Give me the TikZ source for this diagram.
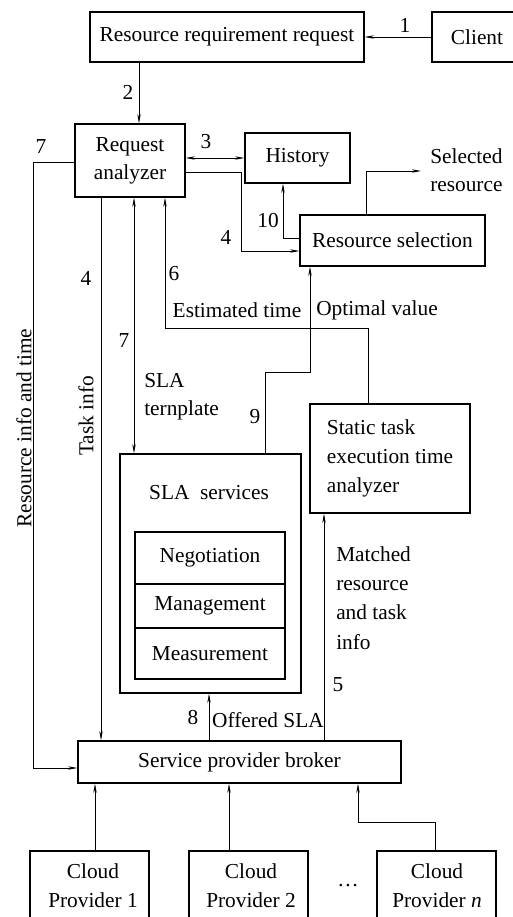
\documentclass[tikz,border=0pt]{standalone}
\usepackage{fontspec}
\setmainfont{Liberation Serif}
\usetikzlibrary{arrows.meta}

\begin{document}
\begin{tikzpicture}[x=0.75pt,y=-0.75pt,
  font=\fontsize{16}{20}\selectfont,
  box/.style={draw,line width=1.1pt,inner sep=0pt,align=center},
  wire/.style={line width=0.5pt},
  arr/.style={wire,-{Stealth[length=7pt,width=2.6pt]}},
  biarr/.style={wire,{Stealth[length=7pt,width=2.6pt]}-{Stealth[length=7pt,width=2.6pt]}},
  lbl/.style={inner sep=0pt},
  txt/.style={inner sep=0pt,align=left}]

\useasboundingbox (0,0) rectangle (513,917);
\clip (0,0) rectangle (513,917);

% ---- boxes ----
\node[box,minimum width=205.5pt,minimum height=37.5pt]  (rrr)    at (227,37)    {Resource requirement request};
\node[box,minimum width=61.5pt,minimum height=37.5pt]   (client) at (473,37)    {\hspace*{6pt}Client};
\node[box,minimum width=82.5pt,minimum height=54.75pt]  (ra)     at (130,160.5) {Request\\[1pt]analyzer};
\node[box,minimum width=78.75pt,minimum height=37.5pt]  (hist)   at (297.5,158) {History};
\node[box,minimum width=138.75pt,minimum height=38.25pt](rs)     at (392.5,240.5) {Resource selection};
\node[box,minimum width=120pt,minimum height=81.75pt,align=left] (stat) at (390,458.5)
     {Static task\\[2pt]execution time\\[2pt]analyzer};
\node[box,minimum width=135.75pt,minimum height=179.25pt] (sla) at (210.5,573.5) {};
\node[lbl] (slat) at (209,493) {SLA~ services};
\node[box,minimum width=112.5pt,minimum height=39pt]    (neg)    at (210,558)   {Negotiation};
\node[box,minimum width=112.5pt,minimum height=33pt]    (man)    at (210,606)   {Management};
\node[box,minimum width=112.5pt,minimum height=38.25pt] (mea)    at (210,653.5) {Measurement};
\node[box,minimum width=242.25pt,minimum height=31.5pt] (broker) at (239.5,762) {Service provider broker};
\node[box,minimum width=89.25pt,minimum height=59.25pt] (cp1)    at (89.5,890.5)  {};
\node[box,minimum width=89.25pt,minimum height=59.25pt] (cp2)    at (248.5,890.5) {};
\node[box,minimum width=89.25pt,minimum height=59.25pt] (cpn)    at (436.5,890.5) {};
\node[lbl,align=center] (cp1t) at (93,886)  {Cloud\\[2pt]Provider 1};
\node[lbl,align=center] (cp2t) at (251,886) {Cloud\\[2pt]Provider 2};
\node[lbl,align=center] (cpnt) at (437,886) {Cloud\\[2pt]Provider \textit{n}};
\node[lbl] (dots) at (348,886) {…};

% ---- reference points for the connectors ----
\coordinate (c2)   at (139,0);
\coordinate (cL)   at (33,162);
\coordinate (cLb)  at (33,768);
\coordinate (c4)   at (241,172);
\coordinate (c4b)  at (241,251);
\coordinate (c10)  at (283,238);
\coordinate (csel) at (366,0);
\coordinate (sel)  at (421,171);
\coordinate (ct)   at (101,0);
\coordinate (c7)   at (134,0);
\coordinate (c6)   at (368,328);
\coordinate (c6b)  at (165,328);
\coordinate (c9)   at (265,372);
\coordinate (c9b)  at (310,372);
\coordinate (c8)   at (209,0);
\coordinate (c5)   at (324,0);
\coordinate (k1)   at (95,0);
\coordinate (k2)   at (229,0);
\coordinate (kn)   at (435,822);
\coordinate (knb)  at (358,822);

% ---- connectors ----
\draw[arr] (client.west) -- (rrr.east);
\node[lbl] at (405,25) {1};

\draw[arr] (rrr.south -| c2) -- (ra.north -| c2);
\node[lbl] at (128,92) {2};

\draw[biarr] (ra.east |- hist.west) -- (hist.west);
\node[lbl] at (206,142) {3};

\draw[arr] (ra.west |- cL) -- (cL) -- (cLb) -- (broker.west |- cLb);
\node[lbl] at (41,147) {7};
\node[lbl,rotate=90] at (24,428) {Resource info and time};

\draw[arr] (ra.east |- c4) -- (c4) -- (c4b) -- (rs.west |- c4b);
\node[lbl] at (226,237) {4};

\draw[arr] (rs.west |- c10) -- (c10) -- (hist.south -| c10);
\node[lbl] at (268,221) {10};

\draw[arr] (rs.north -| csel) |- (sel);
\node[txt,anchor=west] at (430,170) {Selected\\[1pt]resource};

\draw[arr] (ra.south -| ct) -- (broker.north -| ct);
\node[lbl] at (86,278) {4};
\node[lbl,rotate=90] at (86,416) {Task info};

\draw[biarr] (ra.south -| c7) -- (sla.north -| c7);
\node[lbl] at (124,341) {7};
\node[txt,anchor=west] at (144,397) {SLA\\[1pt]ternplate};

\draw[arr] (stat.north -| c6) -- (c6) -- (c6b) -- (ra.south -| c6b);
\node[lbl] at (174,274) {6};
\node[lbl] at (237,310) {Estimated time};

\draw[arr] (sla.north -| c9) -- (c9) -- (c9b) -- (rs.south -| c9b);
\node[lbl] at (255,417) {9};
\node[lbl] at (377,310) {Optimal value};

\draw[arr] (broker.north -| c8) -- (sla.south -| c8);
\node[lbl] at (193,718) {8};
\node[lbl] at (268,720) {Offered SLA};

\draw[arr] (broker.north -| c5) -- (stat.south -| c5);
\node[lbl] at (338,685) {5};
\node[txt,anchor=west] at (336,598) {Matched\\[2pt]resource\\[2pt]and task\\[2pt]info};

\draw[arr] (cp1.north -| k1) -- (broker.south -| k1);
\draw[arr] (cp2.north -| k2) -- (broker.south -| k2);
\draw[arr] (cpn.north -| kn) -- (kn) -- (knb) -- (broker.south -| knb);

\end{tikzpicture}
\end{document}
